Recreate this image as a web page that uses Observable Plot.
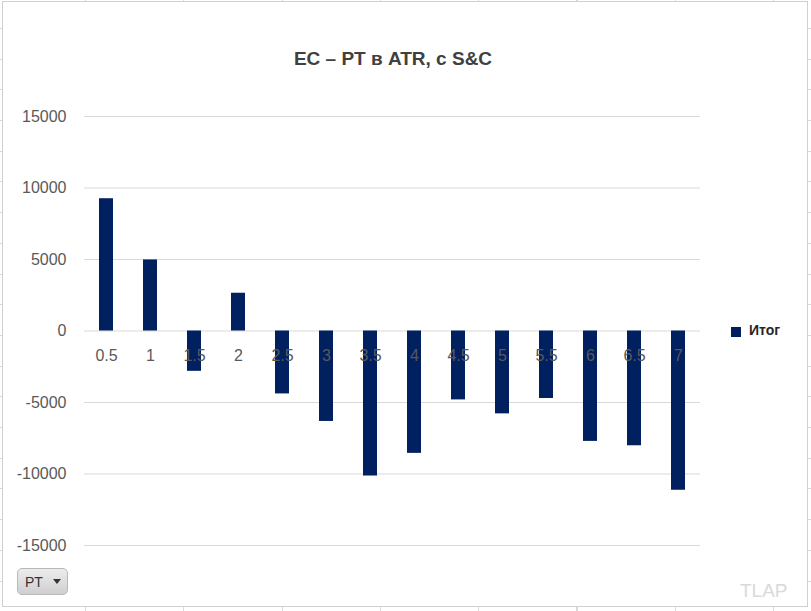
<!DOCTYPE html>
<html>
<head>
<meta charset="utf-8">
<script src="https://cdn.jsdelivr.net/npm/d3@7"></script>
<script src="https://cdn.jsdelivr.net/npm/@observablehq/plot@0.6"></script>
<style>
  html, body { margin: 0; padding: 0; background: #fff; }
  #sheet {
    position: relative; width: 811px; height: 611px; overflow: hidden;
    background-color: #fff;
    background-image:
      repeating-linear-gradient(to right, transparent 0 85px, #dadada 85px 86px, transparent 86px 98.3px),
      repeating-linear-gradient(to bottom, transparent 0 28px, #dadada 28px 29px, transparent 29px 30.7px);
    font-family: "Liberation Sans", Arial, sans-serif;
  }
  #panel {
    position: absolute; left: 2px; top: 1px; width: 806px; height: 606px;
    box-sizing: border-box; border: 1px solid #d0d0d0; background: #fff;
  }
  #chart { position: absolute; left: 0; top: 0; }
  #title {
    position: absolute; left: 193px; width: 400px; top: 48px; text-align: center;
    font-size: 19px; font-weight: bold; color: #404040;
  }
  #legend {
    position: absolute; left: 731px; top: 322px; display: flex; align-items: center;
    font-size: 14px; font-weight: bold; color: #262626;
  }
  #legend .sw { width: 10px; height: 10px; background: #002060; margin-right: 8px; margin-top: 4px; }
  #pt {
    position: absolute; left: 17px; top: 568px; width: 51px; height: 27px; box-sizing: border-box;
    border: 1px solid #b8b8b8; border-radius: 5px;
    background: linear-gradient(#ececec, #cfcfcf);
    font-size: 14px; color: #333; display: flex; align-items: center;
  }
  #pt span { margin-left: 7px; }
  #pt .arrow {
    width: 0; height: 0; margin-left: 10px;
    border-left: 4px solid transparent; border-right: 4px solid transparent; border-top: 5px solid #333;
  }
  #wm {
    position: absolute; left: 740px; top: 580px; font-size: 19px; color: #d9d9d9;
  }
</style>
</head>
<body>
<div id="sheet">
  <div id="panel"></div>
  <div id="title">EC – PT в ATR, с S&amp;C</div>
  <div id="chart"></div>
  <div id="legend"><div class="sw"></div><div>Итог</div></div>
  <div id="pt"><span>PT</span><div class="arrow"></div></div>
  <div id="wm">TLAP</div>
</div>
<script>
// PT levels (in ATR) and the resulting total for each
const categories = ["0.5", "1", "1.5", "2", "2.5", "3", "3.5", "4", "4.5", "5", "5.5", "6", "6.5", "7"];
const totals = [9250, 4970, -2820, 2640, -4400, -6325, -10140, -8557, -4819, -5795, -4721, -7720, -8026, -11137];
const yTicks = [-15000, -10000, -5000, 0, 5000, 10000, 15000];

const rows = categories.map((pt, i) => ({pt, total: totals[i]}));

const chart = Plot.plot({
  width: 811,
  height: 611,
  marginLeft: 84,
  marginRight: 111,
  marginTop: 116,
  marginBottom: 66,
  style: {
    background: "transparent",
    color: "#595959",
    fontFamily: "'Liberation Sans', Arial, sans-serif",
    fontSize: "16px"
  },
  x: {domain: categories, paddingInner: 0.68, paddingOuter: 0.34, axis: null},
  y: {
    domain: [-15000, 15000],
    ticks: yTicks,
    tickSize: 0,
    tickPadding: 18,
    tickFormat: d => String(d),
    label: null
  },
  marks: [
    Plot.ruleY(yTicks, {stroke: "#d9d9d9", strokeWidth: 1}),
    Plot.barY(rows, {x: "pt", y: "total", fill: "#002060"}),
    Plot.text(rows, {x: "pt", y: () => 0, text: "pt", dy: 25, fill: "#595959", fontSize: 16})
  ]
});
document.getElementById("chart").appendChild(chart);
</script>
</body>
</html>
